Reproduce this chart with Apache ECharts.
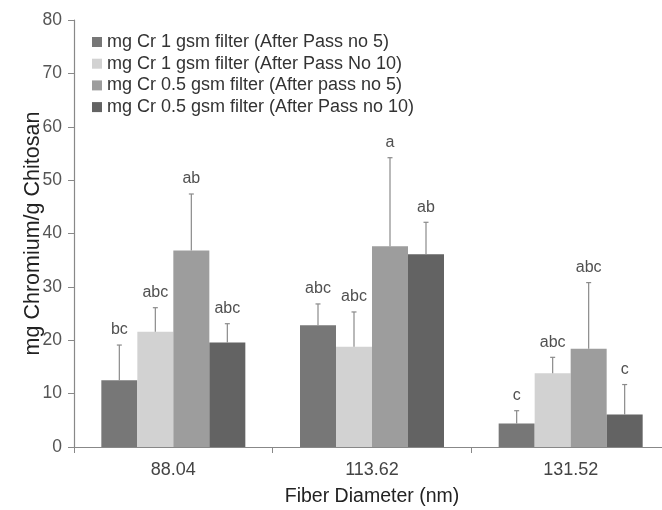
<!DOCTYPE html>
<html>
<head>
<meta charset="utf-8">
<script src="https://cdn.jsdelivr.net/npm/echarts@6/dist/echarts.min.js"></script>
<style>
  html, body { margin: 0; padding: 0; background: #fff; }
  #chart { width: 662px; height: 510px; }
</style>
</head>
<body>
<div id="chart"></div>
<script>
// Fiber diameters (nm) on the category axis
const categories = ['88.04', '113.62', '131.52'];

const seriesNames = [
  'mg Cr 1 gsm filter (After Pass no 5)',
  'mg Cr 1 gsm filter (After Pass No 10)',
  'mg Cr 0.5 gsm filter (After pass no 5)',
  'mg Cr 0.5 gsm filter (After Pass no 10)'
];

// Mean chromium uptake (mg Cr / g chitosan)
const cr1Pass5   = [12.5, 22.8, 4.4];
const cr1Pass10  = [21.6, 18.8, 13.8];
const cr05Pass5  = [36.8, 37.6, 18.4];
const cr05Pass10 = [19.6, 36.1, 6.1];

// Standard deviations (upper error bars)
const cr1Pass5Err   = [6.6, 4.0, 2.4];
const cr1Pass10Err  = [4.5, 6.5, 3.0];
const cr05Pass5Err  = [10.6, 16.6, 12.4];
const cr05Pass10Err = [3.5, 6.0, 5.6];

// Significance letters
const cr1Pass5Sig   = ['bc', 'abc', 'c'];
const cr1Pass10Sig  = ['abc', 'abc', 'abc'];
const cr05Pass5Sig  = ['ab', 'a', 'abc'];
const cr05Pass10Sig = ['abc', 'ab', 'c'];

// Y axis ticks
const yMin = 0, yMax = 80, yStep = 10;

const means = [cr1Pass5, cr1Pass10, cr05Pass5, cr05Pass10];
const errs = [cr1Pass5Err, cr1Pass10Err, cr05Pass5Err, cr05Pass10Err];
const sigs = [cr1Pass5Sig, cr1Pass10Sig, cr05Pass5Sig, cr05Pass10Sig];
const colors = ['#777777', '#d2d2d2', '#9d9d9d', '#636363'];

const BAR_W = 36;
const FONT = 'Liberation Sans, Arial, sans-serif';

const barSeries = means.map((vals, i) => ({
  name: seriesNames[i],
  type: 'bar',
  data: vals,
  barWidth: BAR_W,
  barGap: '0%',
  itemStyle: { color: colors[i] },
  emphasis: { disabled: true },
  z: 2
}));

// Upper error bar with cap, plus the significance letter above it
const errSeries = means.map((vals, i) => ({
  type: 'custom',
  silent: true,
  z: 3,
  data: vals.map((v, j) => [j, v, v + errs[i][j], sigs[i][j]]),
  renderItem: function (params, api) {
    const c = api.value(0);
    const base = api.coord([c, api.value(1)]);
    const top = api.coord([c, api.value(2)]);
    const x = base[0] + (i - 1.5) * BAR_W;
    const cap = 2.5;
    const stroke = { stroke: '#8a8a8a', lineWidth: 1.2 };
    return {
      type: 'group',
      children: [
        { type: 'line', shape: { x1: x, y1: base[1], x2: x, y2: top[1] }, style: stroke },
        { type: 'line', shape: { x1: x - cap, y1: top[1], x2: x + cap, y2: top[1] }, style: stroke },
        {
          type: 'text',
          style: {
            text: api.value(3),
            x: x,
            y: top[1] - 7,
            align: 'center',
            verticalAlign: 'bottom',
            fill: '#505050',
            font: '16px ' + FONT
          }
        }
      ]
    };
  }
}));

const chart = echarts.init(document.getElementById('chart'), null, { renderer: 'canvas' });
chart.setOption({
  animation: false,
  backgroundColor: '#ffffff',
  textStyle: { fontFamily: FONT },
  grid: { left: 74, right: -8, top: 20, bottom: 63, containLabel: false, outerBoundsMode: 'none' },
  legend: {
    data: seriesNames,
    orient: 'vertical',
    left: 87,
    top: 28,
    itemWidth: 10,
    itemHeight: 10,
    itemGap: 3.7,
    icon: 'rect',
    selectedMode: false,
    textStyle: { fontSize: 18, color: '#333', lineHeight: 18, fontFamily: FONT, padding: [0, 0, 0, 0] }
  },
  xAxis: {
    type: 'category',
    data: categories,
    name: 'Fiber Diameter (nm)',
    nameLocation: 'middle',
    nameGap: 40,
    nameMoveOverlap: false,
    nameTextStyle: { fontSize: 19.5, color: '#222', fontFamily: FONT },
    axisLine: { lineStyle: { color: '#888', width: 1.2 } },
    axisTick: { show: true, length: 6, lineStyle: { color: '#888' } },
    axisLabel: { fontSize: 18, color: '#444', margin: 14, fontFamily: FONT }
  },
  yAxis: {
    type: 'value',
    min: yMin,
    max: yMax,
    interval: yStep,
    name: 'mg Chromium/g Chitosan',
    nameLocation: 'middle',
    nameGap: 30,
    nameMoveOverlap: false,
    nameTextStyle: { fontSize: 21.5, color: '#222', fontFamily: FONT },
    splitLine: { show: false },
    axisLine: { show: true, lineStyle: { color: '#888', width: 1.2 } },
    axisTick: { show: true, length: 6, lineStyle: { color: '#888' } },
    axisLabel: { fontSize: 17.5, color: '#555', margin: 12, fontFamily: FONT }
  },
  series: barSeries.concat(errSeries)
});
</script>
</body>
</html>
